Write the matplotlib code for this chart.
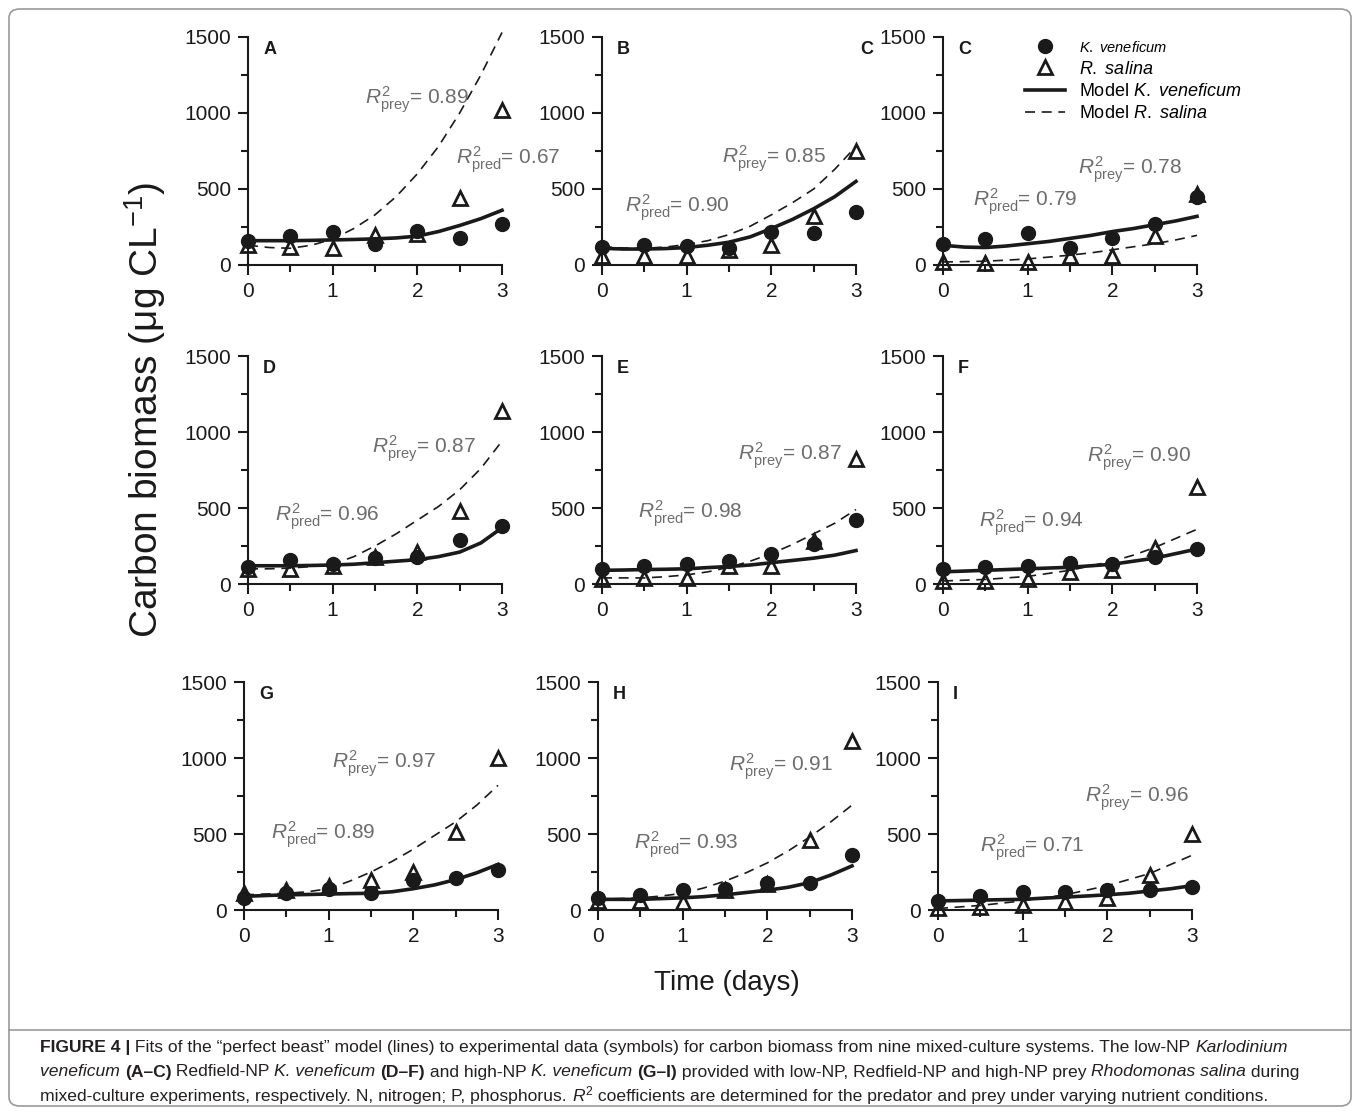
import numpy as np
import matplotlib

matplotlib.use("Agg")
import matplotlib.pyplot as plt
from matplotlib.patches import FancyBboxPatch
from matplotlib.lines import Line2D

plt.rcParams["font.family"] = ["Liberation Sans", "DejaVu Sans"]
plt.rcParams["mathtext.fontset"] = "custom"
plt.rcParams["mathtext.rm"] = "Liberation Sans"
plt.rcParams["mathtext.it"] = "Liberation Sans:italic"
plt.rcParams["mathtext.bf"] = "Liberation Sans:bold"

TIME = [0, 0.5, 1, 1.5, 2, 2.5, 3]
MODEL_TIME = [0, 0.25, 0.5, 0.75, 1, 1.25, 1.5, 1.75, 2, 2.25, 2.5, 2.75, 3]
LETTERS = ["A", "B", "C", "D", "E", "F", "G", "H", "I"]

K_DATA = [
    [160, 190, 220, 135, 225, 180, 270],
    [120, 130, 125, 115, 220, 210, 350],
    [140, 170, 210, 110, 180, 270, 450],
    [110, 160, 130, 170, 180, 290, 380],
    [100, 120, 130, 150, 200, 260, 420],
    [100, 110, 120, 140, 130, 180, 230],
    [80, 110, 140, 110, 200, 210, 260],
    [80, 100, 130, 140, 180, 180, 360],
    [60, 90, 120, 120, 130, 130, 150],
]
R_DATA = [
    [130, 120, 115, 200, 205, 440, 1020],
    [60, 60, 60, 100, 130, 320, 750],
    [20, 15, 20, 60, 60, 190, 470],
    [100, 100, 120, 180, 210, 480, 1140],
    [30, 40, 40, 120, 120, 280, 820],
    [20, 20, 30, 80, 90, 240, 640],
    [110, 130, 160, 200, 250, 510, 1000],
    [60, 60, 50, 130, 170, 460, 1110],
    [10, 20, 30, 50, 80, 230, 500],
]
K_MODEL = [
    [160, 160, 160, 162, 165, 168, 172, 178, 190, 220, 260, 305, 360],
    [110, 105, 105, 108, 115, 130, 150, 185, 240, 300, 370, 450, 550],
    [130, 118, 115, 125, 140, 155, 175, 195, 220, 240, 265, 290, 320],
    [120, 120, 120, 122, 125, 130, 140, 150, 160, 180, 210, 270, 370],
    [90, 92, 95, 97, 100, 108, 115, 125, 140, 155, 170, 190, 220],
    [80, 85, 90, 95, 100, 105, 110, 120, 130, 150, 170, 200, 230],
    [90, 95, 100, 102, 105, 108, 110, 120, 140, 165, 200, 245, 300],
    [70, 70, 70, 75, 80, 88, 100, 115, 130, 150, 180, 230, 290],
    [60, 62, 65, 68, 70, 78, 85, 92, 100, 110, 125, 140, 160],
]
R_MODEL = [
    [130, 115, 110, 130, 170, 240, 330, 450, 600, 780, 1000, 1250, 1530],
    [120, 112, 110, 118, 135, 160, 200, 255, 330, 410, 500, 630, 780],
    [20, 22, 25, 32, 40, 52, 65, 80, 100, 120, 140, 165, 195],
    [100, 100, 105, 115, 130, 180, 250, 330, 420, 510, 620, 760, 940],
    [40, 40, 40, 48, 60, 80, 110, 150, 200, 260, 330, 400, 490],
    [20, 25, 30, 40, 50, 70, 90, 120, 150, 190, 240, 300, 360],
    [100, 105, 110, 120, 140, 190, 250, 320, 400, 490, 580, 690, 820],
    [70, 75, 80, 92, 110, 145, 190, 245, 310, 390, 480, 580, 690],
    [10, 20, 30, 45, 60, 80, 100, 130, 160, 200, 240, 300, 360],
]
R2_PREY = ["0.89", "0.85", "0.78", "0.87", "0.87", "0.90", "0.97", "0.91", "0.96"]
R2_PRED = ["0.67", "0.90", "0.79", "0.96", "0.98", "0.94", "0.89", "0.93", "0.71"]
# label positions (days, biomass)
PREY_POS = [(1.38, 1085), (1.42, 700), (1.6, 625), (1.46, 890), (1.61, 845), (1.70, 830), (1.04, 960), (1.55, 940), (1.74, 740)]
PRED_POS = [(2.46, 690), (0.27, 375), (0.36, 415), (0.32, 445), (0.42, 465), (0.42, 405), (0.32, 495), (0.42, 430), (0.5, 410)]

W, H = 1360, 1114
GREY = "#6d6d6d"
INK = "#1a1a1a"
COL_X = [[248, 602, 943], [248, 602, 943], [244, 598, 938]]
ROW_Y = [265, 584, 910]

fig = plt.figure(figsize=(W / 100, H / 100), dpi=100)

for i in range(9):
    r, c = divmod(i, 3)
    ax = fig.add_axes([COL_X[r][c] / W, 1 - ROW_Y[r] / H, 254 / W, 228 / H])
    ax.set_xlim(0, 3)
    ax.set_ylim(0, 1500)
    ax.patch.set_visible(False)
    for s in ("top", "right"):
        ax.spines[s].set_visible(False)
    for s in ("left", "bottom"):
        ax.spines[s].set_linewidth(1.5)
        ax.spines[s].set_color(INK)
    ax.set_xticks([0, 1, 2, 3])
    ax.set_xticks([0.5, 1.5, 2.5], minor=True)
    ax.set_yticks([0, 500, 1000, 1500])
    ax.set_yticks([250, 750, 1250], minor=True)
    ax.tick_params(which="both", direction="out", width=1.5, color=INK, labelsize=15, labelcolor=INK)
    ax.tick_params(which="major", length=7, pad=5)
    ax.tick_params(which="minor", length=5)
    ax.plot(MODEL_TIME, R_MODEL[i], color=INK, lw=1.2, ls=(0, (6, 4)), clip_on=False)
    ax.plot(MODEL_TIME, K_MODEL[i], color=INK, lw=2.6, clip_on=False)
    ax.plot(TIME, K_DATA[i], "o", color=INK, ms=10, clip_on=False, zorder=4)
    ax.plot(TIME, R_DATA[i], "^", mfc="none", mec=INK, mew=2, ms=10, clip_on=False, zorder=5)
    ax.text(0.18, 1420, LETTERS[i], fontsize=13, fontweight="bold", color=INK, va="center")
    px, py = PREY_POS[i]
    ax.text(px, py, r"$R^2_{\mathrm{prey}}$= " + R2_PREY[i], fontsize=15, color=GREY, va="center")
    px, py = PRED_POS[i]
    ax.text(px, py, r"$R^2_{\mathrm{pred}}$= " + R2_PRED[i], fontsize=15, color=GREY, va="center")
    if i == 1:
        ax.text(3.05, 1420, "C", fontsize=13, fontweight="bold", color=INK, va="center")
    if i == 2:
        handles = [
            Line2D([], [], marker="o", ls="none", color=INK, ms=10),
            Line2D([], [], marker="^", ls="none", mfc="none", mec=INK, mew=2, ms=10),
            Line2D([], [], color=INK, lw=2.6),
            Line2D([], [], color=INK, lw=1.2, ls=(0, (6, 4))),
        ]
        labels = [r"$\mathit{K.\ veneficum}$", r"$\mathit{R.\ salina}$",
                  r"Model $\mathit{K.\ veneficum}$", r"Model $\mathit{R.\ salina}$"]
        leg = ax.legend(handles, labels, loc="upper left", bbox_to_anchor=(0.26, 1.06),
                        frameon=False, fontsize=13, handlelength=2.2, labelspacing=0.3,
                        handletextpad=0.8)
        leg.get_texts()[0].set_fontsize(10.5)

fig.text(145 / W, 1 - 410 / H, "Carbon biomass (\u03bcg CL$^{-1}$)", rotation=90,
         fontsize=28, ha="center", va="center", color=INK)
fig.text(727 / W, 1 - 983 / H, "Time (days)", fontsize=20, ha="center", va="center", color=INK)

# frame and caption
fig.patches.append(FancyBboxPatch((9 / W, 8 / H), 1342 / W, 1097 / H,
                                  boxstyle="round,pad=0,rounding_size=0.008",
                                  transform=fig.transFigure, fill=False, ec="#9a9a9a", lw=1.2))
fig.add_artist(Line2D([9 / W, 1351 / W], [1 - 1030 / H, 1 - 1030 / H],
                      transform=fig.transFigure, color="#9a9a9a", lw=1.2))

CAPTION = [
    [("FIGURE 4 |", "bold", "normal"),
     (" Fits of the \u201cperfect beast\u201d model (lines) to experimental data (symbols) for carbon biomass from nine mixed-culture systems. The low-NP ", "normal", "normal"),
     ("Karlodinium", "normal", "italic")],
    [("veneficum ", "normal", "italic"), ("(A\u2013C)", "bold", "normal"),
     (" Redfield-NP ", "normal", "normal"), ("K. veneficum ", "normal", "italic"),
     ("(D\u2013F)", "bold", "normal"), (" and high-NP ", "normal", "normal"),
     ("K. veneficum ", "normal", "italic"), ("(G\u2013I)", "bold", "normal"),
     (" provided with low-NP, Redfield-NP and high-NP prey ", "normal", "normal"),
     ("Rhodomonas salina", "normal", "italic"), (" during", "normal", "normal")],
    [("mixed-culture experiments, respectively. N, nitrogen; P, phosphorus. ", "normal", "normal"),
     (r"$R^2$", "normal", "normal"),
     (" coefficients are determined for the predator and prey under varying nutrient conditions.", "normal", "normal")],
]
renderer = fig.canvas.get_renderer()
for li, runs in enumerate(CAPTION):
    x = 40
    y = 1 - (1052 + li * 24.5) / H
    for text, weight, style in runs:
        t = fig.text(x / W, y, text, fontsize=12.6, fontweight=weight, fontstyle=style,
                     color="#231f20", va="baseline", ha="left")
        bb = t.get_window_extent(renderer)
        x += bb.width

fig.savefig("out.png", dpi=100)
